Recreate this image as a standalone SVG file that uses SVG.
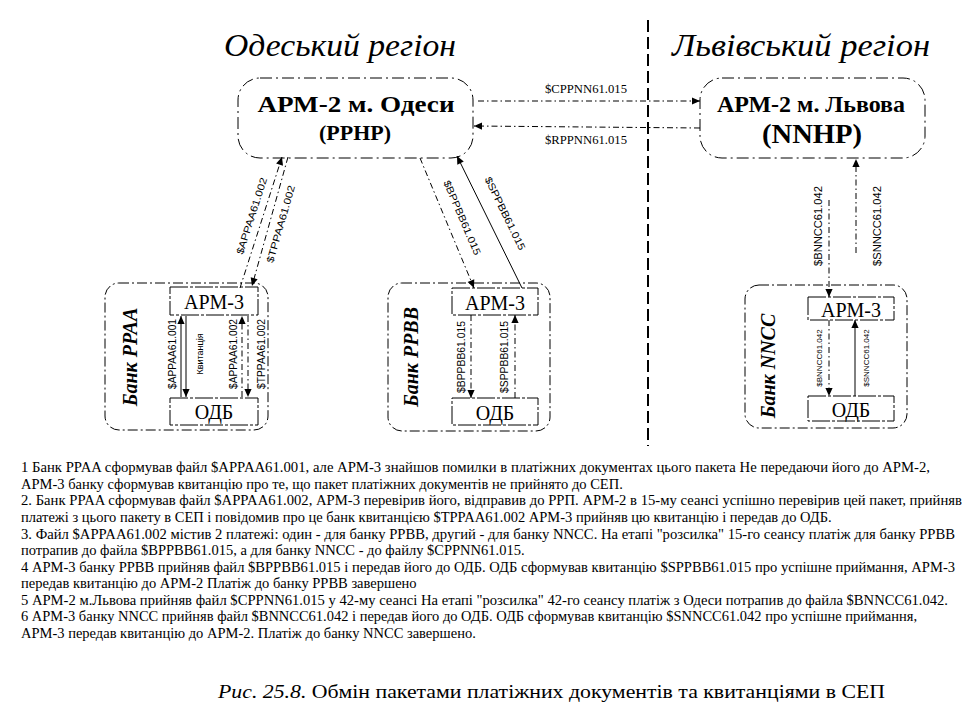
<svg xmlns="http://www.w3.org/2000/svg" width="977" height="723" viewBox="0 0 977 723">
<style>
.bg{fill:#fff}
.cont{fill:none;stroke:#000;stroke-width:1;stroke-dasharray:10,3,2,3}
.box{fill:none;stroke:#000;stroke-width:1;stroke-dasharray:18,2,3,2}
.arm2{fill:none;stroke:#000;stroke-width:1;stroke-dasharray:12,4,2,4}
.c{fill:none;stroke:#000;stroke-width:1}
.cd{fill:none;stroke:#000;stroke-width:1;stroke-dasharray:6,3,1.5,3}
.div{fill:none;stroke:#000;stroke-width:2;stroke-dasharray:12,5}
.title{font-family:"Liberation Serif","Times New Roman",serif;font-style:italic;font-size:31px;text-anchor:middle}
.big{font-family:"Liberation Serif","Times New Roman",serif;font-weight:bold;font-size:24px;text-anchor:middle}
.node{font-family:"Liberation Serif","Times New Roman",serif;font-size:20px;text-anchor:middle}
.bank{font-family:"Liberation Serif","Times New Roman",serif;font-weight:bold;font-style:italic;font-size:20px;text-anchor:middle}
.lbl{font-family:"Liberation Sans",Arial,sans-serif;font-size:10px;text-anchor:middle}
.lbs{font-family:"Liberation Sans",Arial,sans-serif;font-size:8px;text-anchor:middle}
.lbh{font-family:"Liberation Serif","Times New Roman",serif;font-size:12px;text-anchor:middle}
.body{font-family:"Liberation Serif","Times New Roman",serif;font-size:14.5px}
.cap{font-family:"Liberation Serif","Times New Roman",serif;font-size:19px}
</style>
<defs>
<marker id="ah" viewBox="0 0 10 10" refX="10" refY="5" markerWidth="9" markerHeight="8" orient="auto" markerUnits="userSpaceOnUse">
<path d="M0,0.5 L10,5 L0,9.5 z" fill="#000"/>
</marker>
</defs>
<rect class="bg" x="0" y="0" width="977" height="723"/>

<text class="title" x="340" y="56" textLength="232" lengthAdjust="spacingAndGlyphs">Одеський регіон</text>
<text class="title" x="801" y="56" textLength="258" lengthAdjust="spacingAndGlyphs">Львівський регіон</text>
<line class="div" x1="648" y1="20" x2="648" y2="446"/>

<g id="arm2-odesa">
<rect class="arm2" x="238" y="78" width="235" height="80" rx="22"/>
<text class="big" x="356" y="112" textLength="197" lengthAdjust="spacingAndGlyphs">АРМ-2  м. Одеси</text>
<text class="big" x="355" y="140" style="font-size:21px" textLength="72" lengthAdjust="spacingAndGlyphs">(PPHP)</text>
</g>

<g id="arm2-lviv">
<rect class="arm2" x="700" y="78" width="225" height="80" rx="22"/>
<text class="big" x="811" y="112" textLength="188" lengthAdjust="spacingAndGlyphs">АРМ-2 м. Львова</text>
<text class="big" x="812" y="143" style="font-size:27px" textLength="100" lengthAdjust="spacingAndGlyphs">(NNHP)</text>
</g>

<g id="bank-ppaa">
<rect class="cont" x="105" y="283" width="163" height="147" rx="14"/>
<text class="bank" transform="translate(137,357) rotate(-90)">Банк PPAA</text>
<rect class="box" x="170" y="287" width="88" height="28"/>
<text class="node" x="214" y="309">АРМ-3</text>
<rect class="box" x="170" y="398" width="88" height="27"/>
<text class="node" x="214" y="419">ОДБ</text>
</g>

<g id="bank-ppbb">
<rect class="cont" x="388" y="283" width="162" height="148" rx="14"/>
<text class="bank" transform="translate(418,357) rotate(-90)">Банк PPBB</text>
<rect class="box" x="452" y="288" width="86" height="27"/>
<text class="node" x="495" y="310">АРМ-3</text>
<rect class="box" x="452" y="398" width="86" height="27"/>
<text class="node" x="495" y="420">ОДБ</text>
</g>

<g id="bank-nncc">
<rect class="cont" x="745" y="285" width="162" height="143" rx="14"/>
<text class="bank" transform="translate(775,366) rotate(-90)">Банк NNCC</text>
<rect class="box" x="808" y="297" width="86" height="23"/>
<text class="node" x="851" y="317">АРМ-3</text>
<rect class="box" x="808" y="396" width="86" height="25"/>
<text class="node" x="851" y="417">ОДБ</text>
</g>

<g id="connectors">
<line class="cd" x1="478" y1="101" x2="700" y2="101" marker-end="url(#ah)"/>
<text class="lbh" x="586" y="93" textLength="82" lengthAdjust="spacingAndGlyphs">$CPPNN61.015</text>
<line class="cd" x1="700" y1="128" x2="474" y2="126" marker-end="url(#ah)"/>
<text class="lbh" x="586" y="144" textLength="82" lengthAdjust="spacingAndGlyphs">$RPPNN61.015</text>

<line class="cd" x1="240" y1="288" x2="282" y2="157" marker-end="url(#ah)"/>
<text class="lbl" transform="translate(255,217) rotate(-72)" textLength="80" lengthAdjust="spacingAndGlyphs">$APPAA61.002</text>
<line class="cd" x1="288" y1="157" x2="252" y2="286" marker-end="url(#ah)"/>
<text class="lbl" transform="translate(284,225) rotate(-74)" textLength="80" lengthAdjust="spacingAndGlyphs">$TPPAA61.002</text>

<line class="cd" x1="420" y1="158" x2="474" y2="288" marker-end="url(#ah)"/>
<text class="lbl" transform="translate(459,219) rotate(67)" textLength="80" lengthAdjust="spacingAndGlyphs">$BPPBB61.015</text>
<line class="c" x1="522" y1="288" x2="457" y2="156" marker-end="url(#ah)"/>
<text class="lbl" transform="translate(502,215) rotate(64)" textLength="80" lengthAdjust="spacingAndGlyphs">$SPPBB61.015</text>

<line class="cd" x1="829" y1="200" x2="829" y2="297" marker-end="url(#ah)"/>
<text class="lbl" transform="translate(822,226) rotate(-90)" textLength="80" lengthAdjust="spacingAndGlyphs">$BNNCC61.042</text>
<line class="cd" x1="856" y1="253" x2="856" y2="159" marker-end="url(#ah)"/>
<text class="lbl" transform="translate(881,226) rotate(-90)" textLength="80" lengthAdjust="spacingAndGlyphs">$SNNCC61.042</text>

<line class="c" x1="181" y1="397" x2="181" y2="316" marker-end="url(#ah)"/>
<line class="c" x1="186" y1="316" x2="186" y2="397" marker-end="url(#ah)"/>
<text class="lbl" transform="translate(176,354) rotate(-90)" textLength="70" lengthAdjust="spacingAndGlyphs">$APPAA61.001</text>
<text class="lbs" transform="translate(203,354) rotate(-90)" style="font-size:9px">Квитанція</text>
<line class="cd" x1="242" y1="397" x2="242" y2="316" marker-end="url(#ah)"/>
<line class="cd" x1="248" y1="316" x2="248" y2="397" marker-end="url(#ah)"/>
<text class="lbl" transform="translate(237,354) rotate(-90)" textLength="70" lengthAdjust="spacingAndGlyphs">$APPAA61.002</text>
<text class="lbl" transform="translate(265,354) rotate(-90)" textLength="70" lengthAdjust="spacingAndGlyphs">$TPPAA61.002</text>

<line class="cd" x1="471" y1="315" x2="471" y2="398" marker-end="url(#ah)"/>
<text class="lbl" transform="translate(465,357) rotate(-90)" textLength="72" lengthAdjust="spacingAndGlyphs">$BPPBB61.015</text>
<line class="cd" x1="515" y1="398" x2="515" y2="315" marker-end="url(#ah)"/>
<text class="lbl" transform="translate(508,357) rotate(-90)" textLength="72" lengthAdjust="spacingAndGlyphs">$SPPBB61.015</text>

<line class="cd" x1="829" y1="320" x2="829" y2="396" marker-end="url(#ah)"/>
<text class="lbs" transform="translate(822,358) rotate(-90)">$BNNCC61.042</text>
<line class="c" x1="855" y1="396" x2="855" y2="320" marker-end="url(#ah)"/>
<text class="lbs" transform="translate(869,358) rotate(-90)">$SNNCC61.042</text>
</g>

<g id="notes">
<text class="body" x="21" y="472" textLength="909" lengthAdjust="spacingAndGlyphs">1  Банк PPAA сформував файл $APPAA61.001, але АРМ-3 знайшов помилки в платіжних документах цього пакета  Не передаючи його до АРМ-2,</text>
<text class="body" x="21" y="488.5">АРМ-3 банку сформував квитанцію про те, що пакет платіжних документів не прийнято до СЕП.</text>
<text class="body" x="21" y="505" textLength="941" lengthAdjust="spacingAndGlyphs">2. Банк PPAA сформував файл $APPAA61.002, АРМ-3 перевірив його, відправив до РРП. АРМ-2 в 15-му сеансі успішно перевірив цей пакет, прийняв</text>
<text class="body" x="21" y="522">платежі з цього пакету в СЕП і повідомив про це банк квитанцією $TPPAA61.002  АРМ-3 прийняв цю квитанцію і передав до ОДБ.</text>
<text class="body" x="21" y="538.5" textLength="934" lengthAdjust="spacingAndGlyphs">3. Файл $APPAA61.002 містив 2 платежі: один - для банку PPBB,  другий -  для банку NNCC. На етапі "розсилка" 15-го сеансу платіж для банку PPBB</text>
<text class="body" x="21" y="555">потрапив до файла $BPPBB61.015, а для банку NNCC - до файлу $CPPNN61.015.</text>
<text class="body" x="21" y="571.5" textLength="934" lengthAdjust="spacingAndGlyphs">4  АРМ-3 банку PPBB прийняв файл $BPPBB61.015 і передав його до ОДБ. ОДБ сформував квитанцію $SPPBB61.015 про успішне приймання, АРМ-3</text>
<text class="body" x="21" y="588">передав квитанцію до АРМ-2  Платіж до банку PPBB завершено</text>
<text class="body" x="21" y="604.5" textLength="927" lengthAdjust="spacingAndGlyphs">5  АРМ-2 м.Львова прийняв файл $CPPNN61.015 у 42-му  сеансі  На етапі "розсилка" 42-го сеансу платіж з Одеси потрапив до файла $BNNCC61.042.</text>
<text class="body" x="21" y="621" textLength="896" lengthAdjust="spacingAndGlyphs">6  АРМ-3 банку NNCC прийняв файл $BNNCC61.042 і передав його до ОДБ. ОДБ сформував квитанцію  $SNNCC61.042 про успішне  приймання,</text>
<text class="body" x="21" y="637.5">АРМ-3 передав квитанцію до АРМ-2. Платіж до банку NNCC завершено.</text>
</g>

<text class="cap" x="218" y="698" textLength="667" lengthAdjust="spacingAndGlyphs"><tspan font-style="italic">Рис. 25.8.</tspan> Обмін пакетами платіжних документів та квитанціями в СЕП</text>
</svg>
